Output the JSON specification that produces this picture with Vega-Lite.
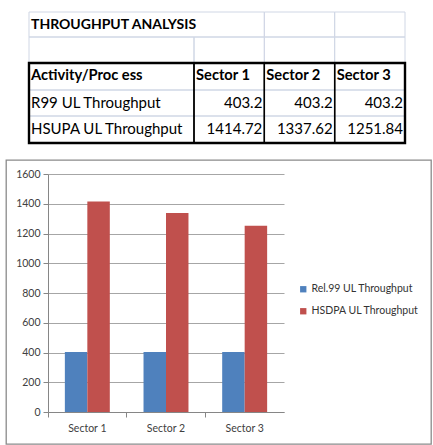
{
  "$schema": "https://vega.github.io/schema/vega-lite/v6.json",
  "padding": {"left": 5, "top": 0, "right": 0, "bottom": 0},
  "spacing": 9,
  "background": "white",
  "config": {"font": "Lato"},
  "datasets": {
    "grid": [
      {"r": 0, "r2": 1, "c": 0, "c2": 2},
      {"r": 0, "r2": 1, "c": 2, "c2": 3},
      {"r": 0, "r2": 1, "c": 3, "c2": 4},
      {"r": 1, "r2": 2, "c": 0, "c2": 1},
      {"r": 1, "r2": 2, "c": 1, "c2": 2},
      {"r": 1, "r2": 2, "c": 2, "c2": 3},
      {"r": 1, "r2": 2, "c": 3, "c2": 4},
      {"r": 2, "r2": 3, "c": 0, "c2": 4},
      {"r": 3, "r2": 4, "c": 0, "c2": 4},
      {"r": 4, "r2": 5, "c": 0, "c2": 4}
    ],
    "cols": [
      {"r": 2, "r2": 5, "c": 0, "c2": 1},
      {"r": 2, "r2": 5, "c": 1, "c2": 2},
      {"r": 2, "r2": 5, "c": 2, "c2": 3},
      {"r": 2, "r2": 5, "c": 3, "c2": 4}
    ],
    "outer": [{"r": 2, "r2": 5, "c": 0, "c2": 4}],
    "labels": [
      {"r": 0, "c": 0, "text": "THROUGHPUT ANALYSIS", "kind": "title"},
      {"r": 2, "c": 0, "text": "Activity/Proc ess", "kind": "head"},
      {"r": 2, "c": 1, "text": "Sector 1", "kind": "head"},
      {"r": 2, "c": 2, "text": "Sector 2", "kind": "head"},
      {"r": 2, "c": 3, "text": "Sector 3", "kind": "head"},
      {"r": 3, "c": 0, "text": "R99 UL Throughput", "kind": "plain"},
      {"r": 4, "c": 0, "text": "HSUPA UL Throughput", "kind": "plain"}
    ],
    "nums": [
      {"r": 3, "c2": 2, "value": 403.2},
      {"r": 3, "c2": 3, "value": 403.2},
      {"r": 3, "c2": 4, "value": 403.2},
      {"r": 4, "c2": 2, "value": 1414.72},
      {"r": 4, "c2": 3, "value": 1337.62},
      {"r": 4, "c2": 4, "value": 1251.84}
    ],
    "bars": [
      {"sector": "Sector 1", "series": "Rel.99 UL Throughput", "value": 403.2},
      {"sector": "Sector 1", "series": "HSDPA UL Throughput", "value": 1414.72},
      {"sector": "Sector 2", "series": "Rel.99 UL Throughput", "value": 403.2},
      {"sector": "Sector 2", "series": "HSDPA UL Throughput", "value": 1337.62},
      {"sector": "Sector 3", "series": "Rel.99 UL Throughput", "value": 403.2},
      {"sector": "Sector 3", "series": "HSDPA UL Throughput", "value": 1251.84}
    ]
  },
  "vconcat": [
    {
      "width": 425,
      "height": 150,
      "view": {"stroke": null},
      "layer": [
        {
          "data": {"name": "grid"},
          "mark": {"type": "rect", "filled": false, "stroke": "#d0d7e5", "strokeWidth": 1},
          "encoding": {
            "x": {"field": "c", "type": "quantitative", "scale": {"domain": [0, 1, 4], "range": [23, 188, 399], "nice": false, "zero": false}, "axis": null},
            "x2": {"field": "c2"},
            "y": {"field": "r", "type": "quantitative", "scale": {"domain": [0, 1, 2, 3, 4, 5], "range": [12, 37, 63, 90, 116, 143], "nice": false, "zero": false}, "axis": null},
            "y2": {"field": "r2"}
          }
        },
        {
          "data": {"name": "cols"},
          "mark": {"type": "rect", "filled": false, "stroke": "#000000", "strokeWidth": 1.4},
          "encoding": {
            "x": {"field": "c", "type": "quantitative", "scale": {"domain": [0, 1, 4], "range": [23, 188, 399], "nice": false, "zero": false}, "axis": null},
            "x2": {"field": "c2"},
            "y": {"field": "r", "type": "quantitative", "scale": {"domain": [0, 1, 2, 3, 4, 5], "range": [12, 37, 63, 90, 116, 143], "nice": false, "zero": false}, "axis": null},
            "y2": {"field": "r2"}
          }
        },
        {
          "data": {"name": "outer"},
          "mark": {"type": "rect", "filled": false, "stroke": "#000000", "strokeWidth": 2.4},
          "encoding": {
            "x": {"field": "c", "type": "quantitative", "scale": {"domain": [0, 1, 4], "range": [23, 188, 399], "nice": false, "zero": false}, "axis": null},
            "x2": {"field": "c2"},
            "y": {"field": "r", "type": "quantitative", "scale": {"domain": [0, 1, 2, 3, 4, 5], "range": [12, 37, 63, 90, 116, 143], "nice": false, "zero": false}, "axis": null},
            "y2": {"field": "r2"}
          }
        },
        {
          "data": {"name": "labels"},
          "transform": [{"filter": "datum.kind === 'title'"}],
          "mark": {"type": "text", "align": "left", "baseline": "middle", "dx": 2, "dy": 13, "fontSize": 14, "fontWeight": "bold", "color": "#000000"},
          "encoding": {
            "x": {"field": "c", "type": "quantitative", "scale": {"domain": [0, 1, 4], "range": [23, 188, 399], "nice": false, "zero": false}, "axis": null},
            "y": {"field": "r", "type": "quantitative", "scale": {"domain": [0, 1, 2, 3, 4, 5], "range": [12, 37, 63, 90, 116, 143], "nice": false, "zero": false}, "axis": null},
            "text": {"field": "text"}
          }
        },
        {
          "data": {"name": "labels"},
          "transform": [{"filter": "datum.kind === 'head'"}],
          "mark": {"type": "text", "align": "left", "baseline": "middle", "dx": 2, "dy": 13, "fontSize": 14.7, "fontWeight": "bold", "color": "#000000"},
          "encoding": {
            "x": {"field": "c", "type": "quantitative", "scale": {"domain": [0, 1, 4], "range": [23, 188, 399], "nice": false, "zero": false}, "axis": null},
            "y": {"field": "r", "type": "quantitative", "scale": {"domain": [0, 1, 2, 3, 4, 5], "range": [12, 37, 63, 90, 116, 143], "nice": false, "zero": false}, "axis": null},
            "text": {"field": "text"}
          }
        },
        {
          "data": {"name": "labels"},
          "transform": [{"filter": "datum.kind === 'plain'"}],
          "mark": {"type": "text", "align": "left", "baseline": "middle", "dx": 2, "dy": 13, "fontSize": 15, "color": "#000000"},
          "encoding": {
            "x": {"field": "c", "type": "quantitative", "scale": {"domain": [0, 1, 4], "range": [23, 188, 399], "nice": false, "zero": false}, "axis": null},
            "y": {"field": "r", "type": "quantitative", "scale": {"domain": [0, 1, 2, 3, 4, 5], "range": [12, 37, 63, 90, 116, 143], "nice": false, "zero": false}, "axis": null},
            "text": {"field": "text"}
          }
        },
        {
          "data": {"name": "nums"},
          "mark": {"type": "text", "align": "right", "baseline": "middle", "dx": -2, "dy": 13, "fontSize": 15, "color": "#000000"},
          "encoding": {
            "x": {"field": "c2", "type": "quantitative", "scale": {"domain": [0, 1, 4], "range": [23, 188, 399], "nice": false, "zero": false}, "axis": null},
            "y": {"field": "r", "type": "quantitative", "scale": {"domain": [0, 1, 2, 3, 4, 5], "range": [12, 37, 63, 90, 116, 143], "nice": false, "zero": false}, "axis": null},
            "text": {"field": "value", "type": "quantitative", "format": ".2~f"}
          }
        }
      ]
    },
    {
      "width": 425,
      "height": 284,
      "view": {"stroke": "#8a8a8a", "strokeWidth": 1.3, "fill": "white"},
      "data": {"name": "bars"},
      "mark": {"type": "bar"},
      "encoding": {
        "x": {
          "field": "sector", "type": "nominal",
          "scale": {"range": [42, 278], "paddingInner": 0, "paddingOuter": 0},
          "axis": {"title": null, "offset": -32, "bandPosition": 0, "labelAngle": 0, "tickSize": 5, "labelPadding": 6, "labelFont": "Lato", "labelFontSize": 10.5, "labelColor": "#404040", "domainColor": "#868686", "tickColor": "#868686", "grid": false}
        },
        "xOffset": {
          "field": "series", "type": "nominal",
          "sort": ["Rel.99 UL Throughput", "HSDPA UL Throughput"],
          "scale": {"paddingInner": 0, "paddingOuter": 0.75}
        },
        "y": {
          "field": "value", "type": "quantitative",
          "scale": {"domain": [0, 1600], "range": [252, 14], "nice": false},
          "axis": {"title": null, "offset": -42, "format": "d", "values": [0, 200, 400, 600, 800, 1000, 1200, 1400, 1600], "tickSize": 5, "labelPadding": 3, "labelFont": "Lato", "labelFontSize": 10.5, "labelColor": "#404040", "domainColor": "#868686", "tickColor": "#868686", "gridColor": "#a6a6a6", "gridWidth": 1}
        },
        "color": {
          "field": "series", "type": "nominal",
          "scale": {"domain": ["Rel.99 UL Throughput", "HSDPA UL Throughput"], "range": ["#4F81BD", "#C0504D"]},
          "legend": {"title": null, "orient": "none", "legendX": 292, "legendY": 284, "symbolType": "square", "symbolSize": 40, "symbolStrokeWidth": 0, "labelFont": "Lato", "labelFontSize": 10.5, "labelColor": "#333333", "rowPadding": 11, "labelOffset": 3}
        }
      }
    }
  ]
}
